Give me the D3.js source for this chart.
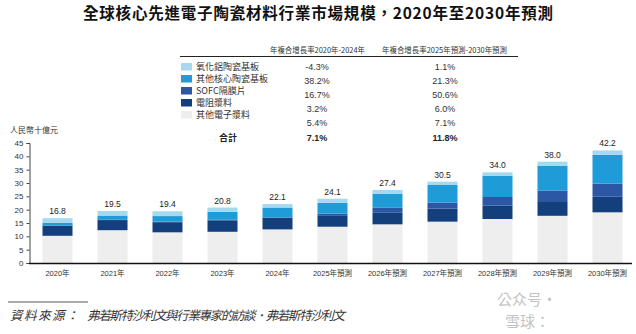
<!DOCTYPE html>
<html>
<head>
<meta charset="utf-8">
<script src="https://cdn.jsdelivr.net/npm/d3@7"></script>
<style>
  body { margin: 0; background: #fff; }
  svg { display: block; }
  text { font-family: "Liberation Sans", "Noto Sans CJK TC", sans-serif; }
  .cjk { font-family: "Noto Sans CJK TC", "Liberation Sans", sans-serif; }
</style>
</head>
<body>
<div id="chart"></div>
<script>
// years on the x axis
var years = ["2020年","2021年","2022年","2023年","2024年","2025年預測","2026年預測","2027年預測","2028年預測","2029年預測","2030年預測"]

// segments, bottom to top (人民幣十億元)
var otherPaste   = [10.2, 12.3, 11.5, 11.7, 12.6, 13.6, 14.5, 15.5, 16.5, 17.7, 19.0]
var resistPaste  = [3.8, 3.8, 3.8, 4.3, 4.3, 4.3, 4.5, 4.9, 5.0, 5.5, 5.85]
var sofc         = [0.1, 0.1, 0.2, 0.2, 0.2, 0.6, 1.7, 2.25, 3.25, 4.0, 4.9]
var otherCore    = [1.0, 1.6, 2.1, 3.0, 3.7, 4.1, 5.3, 6.6, 8.0, 9.3, 10.85]
var alumina      = [1.7, 1.7, 1.8, 1.6, 1.3, 1.5, 1.4, 1.25, 1.25, 1.5, 1.6]
var totals       = ["16.8","19.5","19.4","20.8","22.1","24.1","27.4","30.5","34.0","38.0","42.2"]

// legend / CAGR table (top to bottom)
var seriesNames  = ["氧化鋁陶瓷基板","其他核心陶瓷基板","SOFC隔膜片","電阻漿料","其他電子漿料"]
var seriesColors = ["#a6d9ee","#1f9bd7","#2b57a4","#143f7d","#eeeeee"]
var cagr1 = ["-4.3%","38.2%","16.7%","3.2%","5.4%"]
var cagr2 = ["1.1%","21.3%","50.6%","6.0%","7.1%"]
var totalCagr = ["7.1%","11.8%"]
var yTicks = [0,5,10,15,20,25,30,35,40,45]

var W = 636, H = 334
var svg = d3.select("#chart").append("svg").attr("width", W).attr("height", H)

// title
svg.append("text").attr("class","cjk")
  .attr("x", W/2).attr("y", 19)
  .attr("text-anchor","middle")
  .attr("font-size", 15.5).attr("font-weight","bold").attr("fill","#111")
  .attr("textLength", 470).attr("lengthAdjust","spacing")
  .text("全球核心先進電子陶瓷材料行業市場規模，2020年至2030年預測")

// table header
var col1 = 317, col2 = 445
svg.append("text").attr("class","cjk").attr("x", 270).attr("y", 53)
  .attr("font-size", 8).attr("fill","#333")
  .attr("textLength", 95).attr("lengthAdjust","spacingAndGlyphs")
  .text("年複合增長率2020年-2024年")
svg.append("text").attr("class","cjk").attr("x", 382).attr("y", 53)
  .attr("font-size", 8).attr("fill","#333")
  .attr("textLength", 125).attr("lengthAdjust","spacingAndGlyphs")
  .text("年複合增長率2025年預測-2030年預測")
svg.append("line").attr("x1", 180).attr("x2", 518).attr("y1", 56.5).attr("y2", 56.5)
  .attr("stroke","#222").attr("stroke-width", 1)

// legend rows
var legend = svg.selectAll(".leg").data(seriesNames).enter().append("g").attr("class","leg")
  .attr("transform", function(d, i) { return "translate(181," + (63 + i*12) + ")" })
legend.append("rect").attr("width", 11).attr("height", 7.5)
  .attr("fill", function(d, i) { return seriesColors[i] })
legend.append("text").attr("class","cjk").attr("x", 15).attr("y", 7)
  .attr("font-size", 9).attr("fill","#333").text(function(d) { return d })

// CAGR values
var rowY = [70, 84, 98, 112, 126]
svg.selectAll(".c1").data(cagr1).enter().append("text")
  .attr("x", col1).attr("y", function(d, i) { return rowY[i] })
  .attr("text-anchor","middle").attr("font-size", 9).attr("fill","#333").text(function(d) { return d })
svg.selectAll(".c2").data(cagr2).enter().append("text")
  .attr("x", col2).attr("y", function(d, i) { return rowY[i] })
  .attr("text-anchor","middle").attr("font-size", 9).attr("fill","#333").text(function(d) { return d })
svg.append("text").attr("class","cjk").attr("x", 228).attr("y", 141)
  .attr("text-anchor","middle").attr("font-size", 9).attr("font-weight","bold").attr("fill","#222").text("合計")
svg.selectAll(".ct").data(totalCagr).enter().append("text")
  .attr("x", function(d, i) { return i === 0 ? col1 : col2 }).attr("y", 141)
  .attr("text-anchor","middle").attr("font-size", 9).attr("font-weight","bold").attr("fill","#222")
  .text(function(d) { return d })

// scales
var x = d3.scaleBand().domain(years).range([30, 635]).paddingInner(0.4545).paddingOuter(0.2273)
var y = d3.scaleLinear().domain([0, 45]).range([263, 143])

// stack
var rows = years.map(function(yr, i) {
  return { year: yr, s0: otherPaste[i], s1: resistPaste[i], s2: sofc[i], s3: otherCore[i], s4: alumina[i] }
})
var keys = ["s0","s1","s2","s3","s4"]
var keyColors = [seriesColors[4], seriesColors[3], seriesColors[2], seriesColors[1], seriesColors[0]]
var stacked = d3.stack().keys(keys)(rows)

svg.selectAll(".layer").data(stacked).enter().append("g")
  .attr("fill", function(d, i) { return keyColors[i] })
  .selectAll("rect").data(function(d) { return d }).enter().append("rect")
    .attr("x", function(d) { return x(d.data.year) })
    .attr("width", x.bandwidth())
    .attr("y", function(d) { return y(d[1]) })
    .attr("height", function(d) { return y(d[0]) - y(d[1]) })

// totals above bars
svg.selectAll(".tot").data(totals).enter().append("text")
  .attr("x", function(d, i) { return x(years[i]) + x.bandwidth()/2 })
  .attr("y", function(d, i) { return y(+d) - 4 })
  .attr("text-anchor","middle").attr("font-size", 8.5).attr("fill","#222")
  .text(function(d) { return d })

// y axis
var yAxis = d3.axisLeft(y).tickValues(yTicks).tickSize(3).tickPadding(3)
var gy = svg.append("g").attr("transform","translate(29.5,0)").call(yAxis)
gy.select(".domain").attr("stroke","#444")
gy.selectAll(".tick line").attr("stroke","#444")
gy.selectAll("text").attr("font-size", 8).attr("fill","#333")
  .attr("font-family","Liberation Sans, sans-serif")

svg.append("text").attr("class","cjk").attr("x", 10).attr("y", 133)
  .attr("font-size", 8).attr("fill","#333").text("人民幣十億元")

// x axis
var xAxis = d3.axisBottom(x).tickSize(0).tickPadding(7)
var gx = svg.append("g").attr("transform","translate(0,263.5)").call(xAxis)
gx.select(".domain").remove()
gx.selectAll("text").attr("font-size", 7.5).attr("fill","#333")
  .attr("font-family","Noto Sans CJK TC, sans-serif")
svg.append("line").attr("x1", 29).attr("x2", 632).attr("y1", 263.5).attr("y2", 263.5)
  .attr("stroke","#111").attr("stroke-width", 1.5)

// footer
svg.append("line").attr("x1", 8).attr("x2", 88).attr("y1", 302).attr("y2", 302)
  .attr("stroke","#555").attr("stroke-width", 1)
svg.append("text").attr("class","cjk").attr("x", 10).attr("y", 320)
  .attr("font-size", 12.5).attr("font-style","italic").attr("fill","#333")
  .attr("letter-spacing", 1.5)
  .text("資料來源：")
svg.append("text").attr("class","cjk").attr("x", 87).attr("y", 320)
  .attr("font-size", 12.5).attr("font-style","italic").attr("fill","#333")
  .attr("textLength", 258).attr("lengthAdjust","spacing")
  .text("弗若斯特沙利文與行業專家的訪談．弗若斯特沙利文")

// watermark
svg.append("text").attr("class","cjk").attr("x", 497).attr("y", 305)
  .attr("font-size", 15).attr("fill","#c4c4c4").text("公众号·")
svg.append("text").attr("class","cjk").attr("x", 505).attr("y", 327)
  .attr("font-size", 15).attr("fill","#c4c4c4").text("雪球：")
</script>
</body>
</html>
